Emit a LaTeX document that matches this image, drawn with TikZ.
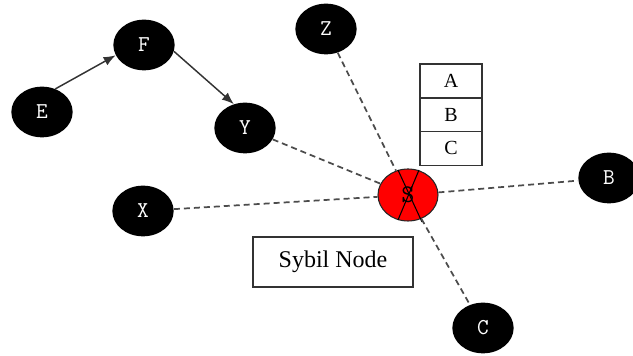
\documentclass[tikz,border=0pt]{standalone}
\usepackage{fontspec}
\setmainfont{Liberation Serif}
\usetikzlibrary{positioning}
\usetikzlibrary{shapes.geometric}
\usetikzlibrary{arrows.meta}
\usetikzlibrary{calc}
\usetikzlibrary{math}

\begin{document}
\begin{tikzpicture}[x=0.75pt,y=-0.75pt,
  peer/.style={ellipse, fill=black, text=white, minimum width=46pt,
    minimum height=38pt, inner sep=0pt, font=\ttfamily\fontsize{17}{17}\selectfont},
  sybil/.style={ellipse, draw=black!85, line width=0.8pt, fill=red,
    minimum width=45pt, minimum height=39pt, inner sep=0pt,
    font=\ttfamily\fontsize{19}{19}\selectfont},
  link/.style={dash pattern=on 4.5pt off 3pt, line width=1.3pt, draw=black!70},
  flow/.style={-{Latex[length=9pt,width=7pt]}, line width=1.1pt, draw=black!80},
  idcell/.style={draw=black!80, line width=1.2pt, outer sep=0pt,
    minimum width=46.5pt, minimum height=25.3pt, inner sep=0pt,
    font=\fontsize{15}{15}\selectfont},
  notebox/.style={draw=black!80, line width=1pt, minimum width=120pt,
    minimum height=37.5pt, inner sep=0pt, font=\fontsize{18}{18}\selectfont}]

  \tikzmath{
    \crossup    = 25; % half height of the cross on S
    \crossleft  = 10; % left reach of the cross
    \crossright = 12; % right reach of the cross
  }

  \useasboundingbox (0,0) rectangle (633,356);

  % honest nodes
  \node[peer] (E) at (42,112) {E};
  \node[peer] (F) at (144,45) {F};
  \node[peer] (Y) at (245,128) {Y};
  \node[peer] (Z) at (326,29) {Z};
  \node[peer] (X) at (143,211) {X};
  \node[peer] (C) at (483,328) {C};
  \node[peer] (B) at (609,178) {B};

  % Sybil node S
  \node[sybil] (S) at (408,195) {S};
  \draw[line width=0.8pt] ($ (S) + (-\crossleft,-\crossup) $) -- ($ (S) + (\crossright+2,\crossup+2) $);
  \draw[line width=0.8pt] ($ (S) + (\crossright-1,-\crossup) $) -- ($ (S) + (-\crossleft,\crossup) $);

  % identities held by S
  \node[idcell] (idA) at (451,81) {A};
  \node[idcell, below=0pt of idA] (idB) {B};
  \node[idcell, below=0pt of idB] (idC) {C};

  \node[notebox] (note) at (333,262) {Sybil Node};

  % normal traffic
  \draw[flow] (E.60) -- (F.200);
  \draw[flow] (F.-12) -- (Y.115);

  % links to the Sybil node
  \draw[link] (Z) -- (S);
  \draw[link] (S) -- (C);
  \draw[link] (Y) -- (S);
  \draw[link] (X) -- (S);
  \draw[link] (S) -- (B);

\end{tikzpicture}
\end{document}
